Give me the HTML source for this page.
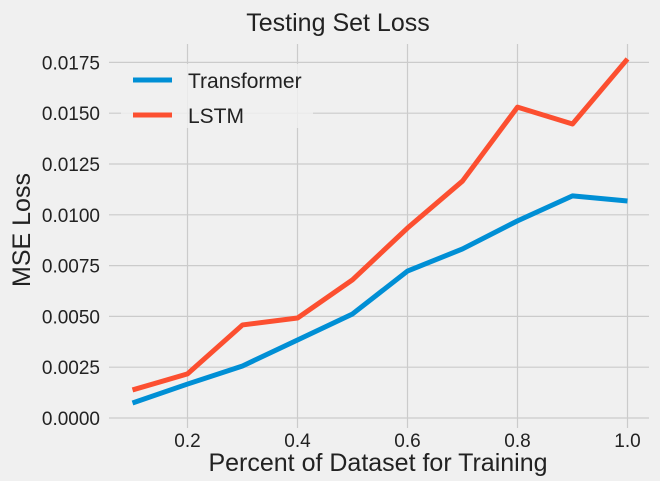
<!DOCTYPE html>
<html><head><meta charset="utf-8"><style>
body{margin:0;background:#f0f0f0}
svg{display:block;font-family:"Liberation Sans","DejaVu Sans",sans-serif}
</style></head><body>
<svg id="chart" width="660" height="481">
<rect x="0" y="0" width="660" height="481" fill="#f0f0f0"/>
<g id="grid"></g>
<g id="ticks"></g>
<g id="lines"></g>
<text x="338" y="31" font-size="25" text-anchor="middle" fill="#222">Testing Set Loss</text>
<text x="378" y="471" font-size="25" text-anchor="middle" fill="#222">Percent of Dataset for Training</text>
<text transform="translate(30,230) rotate(-90)" font-size="25" text-anchor="middle" fill="#222">MSE Loss</text>
<g>
<rect x="121" y="64" width="192" height="64" fill="#f0f0f0" opacity="0.8"/>
<line x1="133" y1="80" x2="172" y2="80" stroke="#008fd5" stroke-width="5"/>
<text x="188" y="88" font-size="21" fill="#222">Transformer</text>
<line x1="133" y1="115" x2="172" y2="115" stroke="#fc4f30" stroke-width="5"/>
<text x="188" y="123" font-size="21" fill="#222">LSTM</text>
</g>
</svg>
<script>
const xValues=[0.1,0.2,0.3,0.4,0.5,0.6,0.7,0.8,0.9,1.0];
const transformerLoss=[0.00074,0.00167,0.00256,0.00384,0.00512,0.00723,0.00832,0.0097,0.01093,0.01068];
const lstmLoss=[0.00138,0.00217,0.00458,0.00492,0.0068,0.00935,0.01166,0.0153,0.01447,0.01767];
const xTicks=[0.2,0.4,0.6,0.8,1.0];
const yTicks=[0,0.0025,0.005,0.0075,0.01,0.0125,0.015,0.0175];
const NS="http://www.w3.org/2000/svg";
const xs=v=>77.5+v*550;
const ys=v=>418-v*20320;
const L=109,R=649,T=44,B=428;
function mk(tag,attrs,parent){const e=document.createElementNS(NS,tag);for(const k in attrs)e.setAttribute(k,attrs[k]);parent.appendChild(e);return e;}
const grid=document.getElementById('grid'),ticks=document.getElementById('ticks'),lines=document.getElementById('lines');
xTicks.forEach(t=>{
 const g=mk('line',{x1:xs(t),x2:xs(t),y1:T,y2:B,stroke:'#cbcbcb','stroke-width':1.2},grid);
 
 
 const tx=mk('text',{x:xs(t),y:447,'font-size':19,'text-anchor':'middle',fill:'#222'},ticks);
 tx.textContent=t.toFixed(1);
 
 
});
yTicks.forEach(t=>{
 const g=mk('line',{x1:L,x2:R,y1:ys(t),y2:ys(t),stroke:'#cbcbcb','stroke-width':1.2},grid);
 
 
 const tx=mk('text',{x:100,y:ys(t)+7,'font-size':19,'text-anchor':'end',fill:'#222'},ticks);
 tx.textContent=t.toFixed(4);
 
 
});
function series(vals,color,name){
 const p=mk('polyline',{points:xValues.map((x,i)=>xs(x)+','+ys(vals[i])).join(' '),fill:'none',stroke:color,'stroke-width':5,'stroke-linejoin':'round'},lines);
 
 
}
series(transformerLoss,'#008fd5','transformer-line');
series(lstmLoss,'#fc4f30','lstm-line');
</script>
</body></html>
